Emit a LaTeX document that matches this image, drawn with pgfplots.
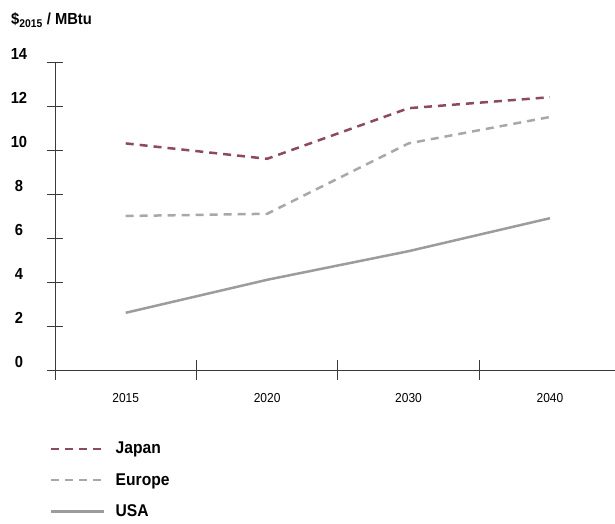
\documentclass[border=0pt]{standalone}
\usepackage{pgfplots}
\pgfplotsset{compat=1.18}
\usepackage{fontspec}
\setmainfont{Liberation Sans}[FakeStretch=0.92]
\definecolor{japan}{HTML}{8C4A5C}
\definecolor{europe}{HTML}{A8A8A8}
\definecolor{usa}{HTML}{9C9C9C}
\definecolor{axisc}{HTML}{3A3A3A}
\begin{document}
\begin{tikzpicture}
\useasboundingbox (0,0) rectangle (615pt,524pt);
\node[anchor=base west, font=\bfseries\fontsize{16}{18}\selectfont, inner sep=0pt] at (11pt,499pt) {\$\textsubscript{2015} / MBtu};
\begin{axis}[
  at={(55pt,154pt)}, anchor=south west,
  scale only axis, width=560pt, height=308pt,
  xmin=-0.5, xmax=3.46, ymin=0, ymax=14,
  axis x line=bottom, axis y line=left,
  axis line style={-, draw=axisc, line width=0.9pt},
  xtick={0,1,2,3}, xticklabels={2015,2020,2030,2040},
  minor xtick={-0.5,0.5,1.5,2.5},
  ytick={0,2,4,6,8,10,12,14},
  tick align=center,
  major tick length=16pt, minor tick length=19pt,
  x tick style={draw=none},
  minor x tick style={draw=axisc, line width=0.9pt},
  y tick style={draw=axisc, line width=0.9pt},
  /pgf/number format/assume math mode=true,
  yticklabel style={font=\bfseries\fontsize{16}{18}\selectfont, anchor=center, xshift=-28pt, yshift=8pt},
  xticklabel style={font=\fontsize{13}{15}\selectfont, yshift=-12pt},
  clip=false,
  legend style={at={(rel axis cs:0,0)}, anchor=north west, xshift=-8pt, yshift=-68pt, draw=none, fill=none, font=\bfseries\fontsize{17}{19}\selectfont, row sep=14pt},
  legend cell align=left,
  legend image code/.code={\draw[#1] (0pt,0pt) -- (53pt,0pt); \path (61pt,0pt);},
]
\addplot[japan, line width=2.5pt, dash pattern=on 8pt off 6pt] coordinates {(0,10.3) (1,9.6) (2,11.9) (3,12.4)};
\addlegendentry{Japan}
\addplot[europe, line width=2.5pt, dash pattern=on 8pt off 6pt] coordinates {(0,7.0) (1,7.1) (2,10.3) (3,11.5)};
\addlegendentry{Europe}
\addplot[usa, line width=2.5pt] coordinates {(0,2.6) (1,4.1) (2,5.4) (3,6.9)};
\addlegendentry{USA}
\end{axis}
\end{tikzpicture}
\end{document}
